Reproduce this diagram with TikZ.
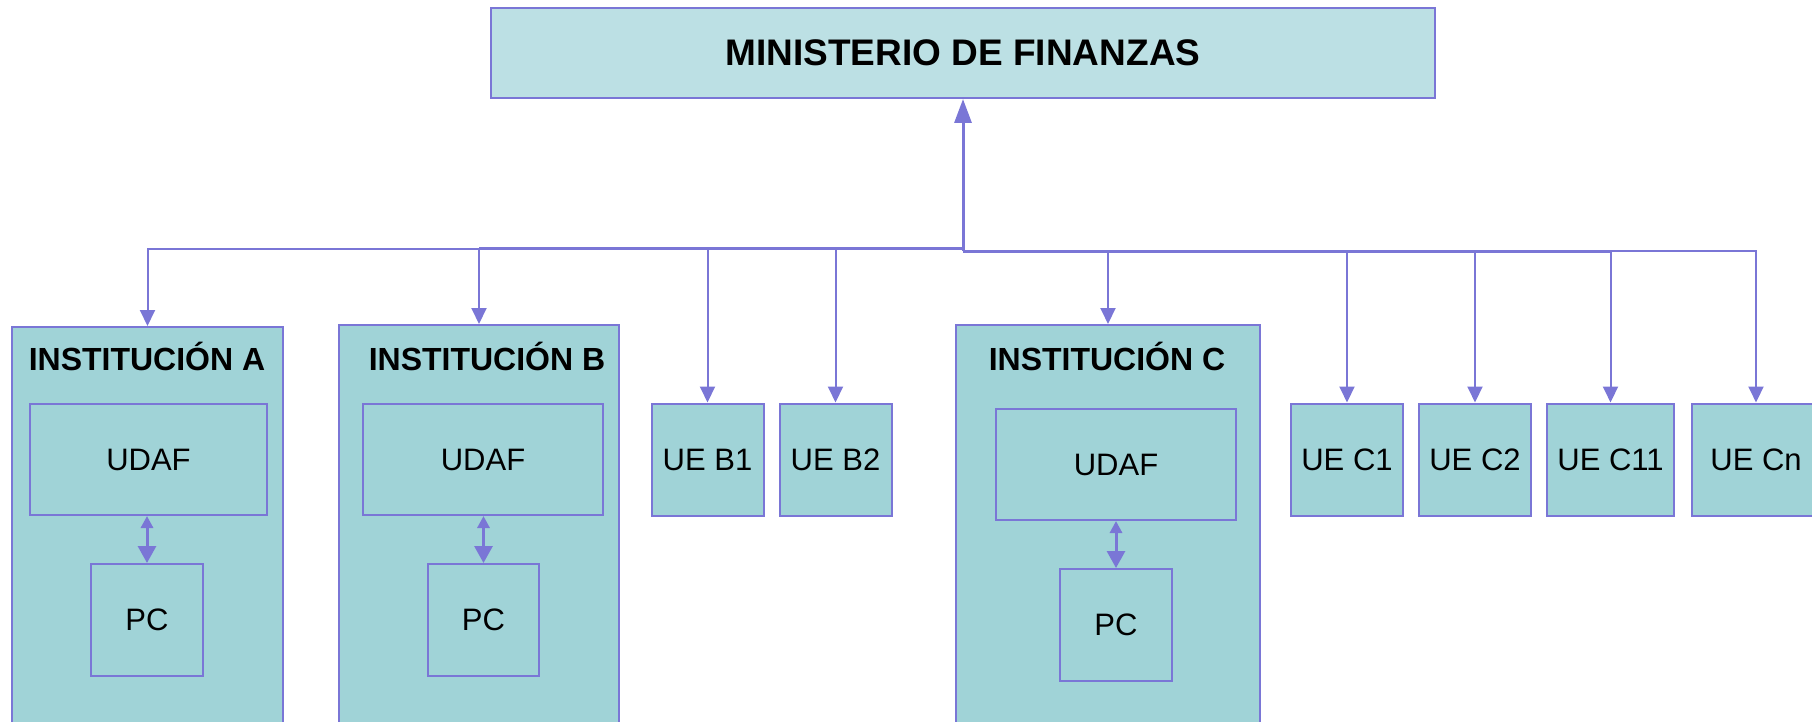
\documentclass[tikz,border=0pt]{standalone}
\usepackage{fontspec}
\setmainfont{Liberation Sans}
\usetikzlibrary{arrows.meta}
\definecolor{boxfill}{HTML}{A0D3D7}
\definecolor{topfill}{HTML}{BCE0E4}
\definecolor{edge}{HTML}{7A76D6}
\tikzset{
  box/.style={draw=edge, fill=boxfill, line width=2pt, inner sep=0pt, font=\fontsize{31}{37}\selectfont},
  topbox/.style={box, fill=topfill, font=\bfseries\fontsize{37}{44}\selectfont},
  inst/.style={box},
  title/.style={inner sep=0pt, font=\bfseries\fontsize{32}{38}\selectfont},
  branch/.style={draw=edge, line width=2pt, -{Triangle[width=15pt,length=16pt]}},
  trunk/.style={draw=edge, line width=3pt},
  uparrow/.style={draw=edge, line width=3pt, -{Triangle[width=17pt,length=24pt]}},
  dbl/.style={draw=edge, line width=3pt, {Triangle[width=12pt,length=12pt]}-{Triangle[width=18pt,length=17pt]}},
}
\begin{document}
\begin{tikzpicture}[x=1pt, y=-1pt]
\useasboundingbox (0,0) rectangle (1812,722);
\clip (0,0) rectangle (1812,722);
% top
\node[topbox, minimum width=944pt, minimum height=90pt] (min) at (963,53) {MINISTERIO DE FINANZAS};
% institutions
\node[inst, minimum width=271pt, minimum height=440pt, anchor=north] (instA) at (147.5,326) {};
\node[inst, minimum width=280pt, minimum height=440pt, anchor=north] (instB) at (479,324) {};
\node[inst, minimum width=304pt, minimum height=440pt, anchor=north] (instC) at (1108,324) {};
\node[title] (tA) at (147,356) {INSTITUCIÓN A};
\node[title] (tB) at (487,356) {INSTITUCIÓN B};
\node[title] (tC) at (1107,356) {INSTITUCIÓN C};
% inner boxes
\node[box, minimum width=237pt, minimum height=111pt] (udafA) at (148.5,459.5) {UDAF};
\node[box, minimum width=112pt, minimum height=112pt] (pcA) at (147,620) {PC};
\node[box, minimum width=240pt, minimum height=111pt] (udafB) at (483,459.5) {UDAF};
\node[box, minimum width=111pt, minimum height=112pt] (pcB) at (483.5,620) {PC};
\node[box, minimum width=240pt, minimum height=111pt] (udafC) at (1116,464.5) {UDAF};
\node[box, minimum width=112pt, minimum height=112pt] (pcC) at (1116,625) {PC};
% UE boxes
\node[box, minimum width=112pt, minimum height=112pt] (ueB1) at (707.5,459.5) {UE B1};
\node[box, minimum width=112pt, minimum height=112pt] (ueB2) at (835.5,459.5) {UE B2};
\node[box, minimum width=112pt, minimum height=112pt] (ueC1) at (1347,459.5) {UE C1};
\node[box, minimum width=112pt, minimum height=112pt] (ueC2) at (1475,459.5) {UE C2};
\node[box, minimum width=127pt, minimum height=112pt] (ueC11) at (1610.5,459.5) {UE C11};
\node[box, minimum width=128pt, minimum height=112pt] (ueCn) at (1756,459.5) {UE Cn};
% bus
\coordinate (busL) at (963,248.5);
\coordinate (busR) at (963,251);
\draw[uparrow] (busR) -- (min.south);
\draw[branch] (busL) -| (instA.north);
\draw[branch] (busL) -| (instB.north);
\draw[branch] (busL) -| (ueB1.north);
\draw[branch] (busL) -| (ueB2.north);
\draw[branch] (busR) -| (instC.north);
\draw[branch] (busR) -| (ueC1.north);
\draw[branch] (busR) -| (ueC2.north);
\draw[branch] (busR) -| (ueC11.north);
\draw[branch] (busR) -| (ueCn.north);
\draw[trunk] (busL) -- (instB.north |- busL);
\draw[trunk] (busR) -- (ueC11.north |- busR);
% inner links
\draw[dbl] (pcA.north |- udafA.south) -- (pcA.north);
\draw[dbl] (pcB.north |- udafB.south) -- (pcB.north);
\draw[dbl] (pcC.north |- udafC.south) -- (pcC.north);
\end{tikzpicture}
\end{document}
